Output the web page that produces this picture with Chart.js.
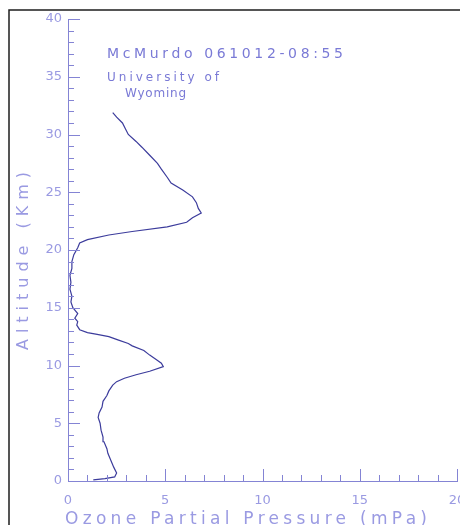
<!DOCTYPE html>
<html>
<head>
<meta charset="utf-8">
<script src="https://cdn.jsdelivr.net/npm/chart.js@4/dist/chart.umd.min.js"></script>
<style>
  body { margin: 0; background: #fff; }
  canvas { display: block; }
</style>
</head>
<body>
<canvas id="ozoneChart" width="460" height="525"></canvas>
<script>
// sounding profile: partial pressure (mPa) and altitude (km)
const pressure = [1.3, 1.9, 2.4, 2.5, 2.35, 2.2, 2.05, 2.0, 1.85, 1.8, 1.7, 1.65, 1.55, 1.6, 1.75, 1.8,
  2.0, 2.1, 2.3, 2.5, 2.9, 3.5, 4.2, 4.9, 4.8, 4.55, 4.2, 3.9, 3.3, 3.1, 2.6, 2.1, 1.5, 1.0, 0.6,
  0.45, 0.5, 0.35, 0.5, 0.25, 0.15, 0.2, 0.1, 0.15, 0.1, 0.2, 0.2, 0.3, 0.5, 0.6, 1.0, 2.1, 3.3,
  5.1, 6.1, 6.4, 6.85, 6.7, 6.6, 6.4, 5.9, 5.3, 5.1, 4.8, 4.6, 4.2, 3.8, 3.5, 3.1, 2.95, 2.8, 2.5, 2.3];
const altitude = [0.1, 0.2, 0.35, 0.7, 1.2, 1.8, 2.4, 2.8, 3.4, 3.8, 4.4, 5.0, 5.5, 5.9, 6.4, 6.9,
  7.4, 7.8, 8.3, 8.6, 8.9, 9.2, 9.5, 9.9, 10.2, 10.5, 10.9, 11.3, 11.7, 11.9, 12.2, 12.5, 12.7, 12.85, 13.1,
  13.5, 13.8, 14.1, 14.5, 15.0, 15.5, 16.0, 16.6, 17.2, 17.8, 18.4, 19.0, 19.6, 20.2, 20.6, 20.9, 21.3, 21.6,
  22.0, 22.4, 22.8, 23.2, 23.6, 24.1, 24.6, 25.2, 25.8, 26.3, 27.0, 27.5, 28.2, 28.9, 29.4, 30.0, 30.5, 31.0, 31.5, 31.9];

const xRange = [0, 20];
const yRange = [0, 40];
const titleLines = ['McMurdo 061012-08:55', 'University of', 'Wyoming'];
const xTitle = 'Ozone Partial Pressure (mPa)';
const yTitle = 'Altitude (Km)';

const axisColor = '#8484d4';
const labelColor = '#9a9ae2';
const lineColor = '#3c3c9c';

// draw text stretched to a given width (the original uses a wide stroke font)
function spacedText(ctx, text, x, y, width) {
  ctx.save();
  ctx.textAlign = 'left';
  const w0 = ctx.measureText(text).width;
  const ls = (width - w0) / Math.max(1, text.length - 1);
  if ('letterSpacing' in ctx) {
    ctx.letterSpacing = ls + 'px';
    ctx.fillText(text, x, y);
  } else {
    let cx = x;
    for (const ch of text) {
      ctx.fillText(ch, cx, y);
      cx += ctx.measureText(ch).width + ls;
    }
  }
  ctx.restore();
}

const decorations = {
  id: 'decorations',
  beforeDraw(chart) {
    const ctx = chart.ctx;
    ctx.save();
    ctx.fillStyle = '#fff';
    ctx.fillRect(0, 0, chart.width, chart.height);
    // frame (only left and top edges are inside the picture)
    ctx.strokeStyle = '#1e1e1e';
    ctx.lineWidth = 1.5;
    ctx.beginPath();
    ctx.moveTo(9, chart.height + 2);
    ctx.lineTo(9, 10);
    ctx.lineTo(chart.width + 2, 10);
    ctx.stroke();
    ctx.restore();
  },
  afterDraw(chart) {
    const ctx = chart.ctx;
    const xs = chart.scales.x, ys = chart.scales.y;
    const x0 = xs.getPixelForValue(xRange[0]);
    const y0 = ys.getPixelForValue(yRange[0]);
    ctx.save();
    ctx.strokeStyle = axisColor;
    ctx.lineWidth = 1;
    ctx.beginPath();
    // inward ticks on the x axis
    for (let v = xRange[0] + 1; v <= xRange[1]; v++) {
      const px = Math.round(xs.getPixelForValue(v)) + 0.5;
      const len = v % 5 === 0 ? 12 : 6;
      ctx.moveTo(px, y0);
      ctx.lineTo(px, y0 - len);
    }
    // inward ticks on the y axis
    for (let v = yRange[0] + 1; v <= yRange[1]; v++) {
      const py = Math.round(ys.getPixelForValue(v)) + 0.5;
      const len = v % 5 === 0 ? 12 : 6;
      ctx.moveTo(x0, py);
      ctx.lineTo(x0 + len, py);
    }
    ctx.stroke();

    ctx.fillStyle = '#7a7ad6';
    ctx.textBaseline = 'alphabetic';
    ctx.font = '14px "DejaVu Sans"';
    spacedText(ctx, titleLines[0], 107, 58, 236);
    ctx.font = '12px "DejaVu Sans"';
    spacedText(ctx, titleLines[1], 107, 81, 112);
    spacedText(ctx, titleLines[2], 125, 97, 61);

    ctx.fillStyle = labelColor;
    ctx.font = '17px "DejaVu Sans"';
    spacedText(ctx, xTitle, 65, 524, 362);

    ctx.translate(28, 350);
    ctx.rotate(-Math.PI / 2);
    ctx.font = '16px "DejaVu Sans"';
    spacedText(ctx, yTitle, 0, 0, 178);
    ctx.restore();
  }
};

new Chart(document.getElementById('ozoneChart'), {
  type: 'scatter',
  data: {
    datasets: [{
      label: 'Ozone',
      data: pressure.map((p, i) => ({ x: p, y: altitude[i] })),
      showLine: true,
      borderColor: lineColor,
      borderWidth: 1.2,
      pointRadius: 0,
      tension: 0
    }]
  },
  options: {
    responsive: false,
    animation: false,
    devicePixelRatio: 1,
    layout: { padding: { top: 19, right: 3, left: 0, bottom: 0 } },
    plugins: {
      legend: { display: false },
      tooltip: { enabled: false }
    },
    scales: {
      x: {
        type: 'linear',
        min: xRange[0],
        max: xRange[1],
        grid: { display: false, drawTicks: false },
        border: { color: axisColor, width: 1 },
        ticks: { stepSize: 5, color: labelColor, font: { size: 13, family: 'DejaVu Sans' }, padding: 12, maxRotation: 0 },
        afterFit(s) { s.height = 44; s.paddingLeft = 0; s.paddingRight = 0; }
      },
      y: {
        type: 'linear',
        min: yRange[0],
        max: yRange[1],
        grid: { display: false, drawTicks: false },
        border: { color: axisColor, width: 1 },
        ticks: { stepSize: 5, color: labelColor, font: { size: 13, family: 'DejaVu Sans' }, padding: 6 },
        afterFit(s) { s.width = 68; s.paddingTop = 0; s.paddingBottom = 0; }
      }
    }
  },
  plugins: [decorations]
});
</script>
</body>
</html>
